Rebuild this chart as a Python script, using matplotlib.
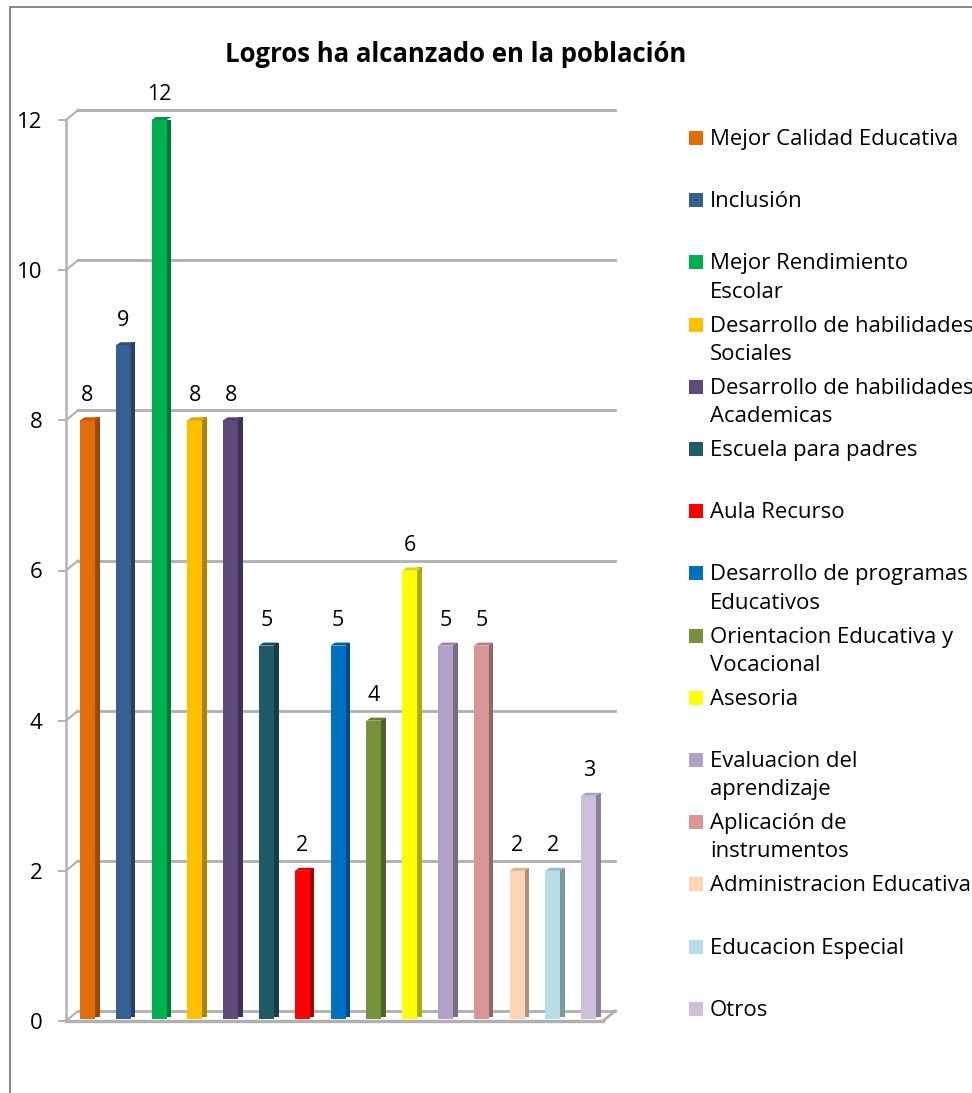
import matplotlib
matplotlib.use("Agg")
import matplotlib.pyplot as plt
from matplotlib.patches import Polygon, Rectangle
from matplotlib.transforms import ScaledTranslation
import matplotlib.colors as mc

plt.rcParams['font.family'] = ['Open Sans', 'DejaVu Sans']

TITLE = "Logros ha alcanzado en la población"
categories = ["Mejor Calidad Educativa", "Inclusión", "Mejor Rendimiento\nEscolar",
              "Desarrollo de habilidades\nSociales", "Desarrollo de habilidades\nAcademicas",
              "Escuela para padres", "Aula Recurso", "Desarrollo de programas\nEducativos",
              "Orientacion Educativa y\nVocacional", "Asesoria", "Evaluacion del\naprendizaje",
              "Aplicación de\ninstrumentos", "Administracion Educativa", "Educacion Especial", "Otros"]
values = [8, 9, 12, 8, 8, 5, 2, 5, 4, 6, 5, 5, 2, 2, 3]
colors = ["#E36C0A", "#366092", "#00B050", "#FFC000", "#604A7B", "#215967", "#FF0000", "#0070C0",
          "#76933C", "#FFFF00", "#B1A0C7", "#DA9694", "#FCD5B4", "#B7DEE8", "#CCC0DA"]
yticks = [0, 2, 4, 6, 8, 10, 12]

W, H = 972, 1093
fig = plt.figure(figsize=(W / 100, H / 100), dpi=100)

# pixel-space overlay for frame and legend
ov = fig.add_axes([0, 0, 1, 1])
ov.set_xlim(0, W); ov.set_ylim(H, 0); ov.axis('off')
ov.plot([10, 10, W], [H, 7, 7], color='#868686', lw=1.4, solid_joinstyle='miter')

L, R, Y0, Y12 = 66, 603, 1021, 120
ax = fig.add_axes([L / W, 1 - Y0 / H, (R - L) / W, (Y0 - Y12) / H])
ax.patch.set_alpha(0)
ax.set_xlim(-0.5, 14.5)
ax.set_ylim(0, 12)
for s in ['top', 'right', 'bottom']:
    ax.spines[s].set_visible(False)
ax.spines['left'].set_color('#B4B4B4'); ax.spines['left'].set_linewidth(1.8)
ax.set_xticks([])
ax.set_yticks(yticks)
ax.tick_params(axis='y', length=6, width=1.2, color='#A6A6A6', pad=11, labelsize=16, labelcolor='black')

DX, DY = 12, 10  # depth in pixels
depth = ax.transData + ScaledTranslation(DX / 100, DY / 100, fig.dpi_scale_trans)
grid_c = '#B0B0B0'
unit_x = 1 / 35.8
unit_y = 1 / 75.08
for t in yticks:
    ax.plot([-0.5, 14.5], [t, t], transform=depth, color=grid_c, lw=2.0, clip_on=False, zorder=1)
    ax.plot([-0.5, -0.5 + DX * unit_x], [t, t + DY * unit_y], color=grid_c, lw=1.5, clip_on=False, zorder=1)
# floor
ax.plot([-0.5, 14.5], [0, 0], color=grid_c, lw=2.4, clip_on=False, zorder=2)
ax.plot([14.5, 14.5 + DX * unit_x], [0, DY * unit_y], color=grid_c, lw=2, clip_on=False, zorder=2)


def shade(c, f=0.68):
    r, g, b = mc.to_rgb(c)
    return (r * f, g * f, b * f)


fw, sw, th = 15 * unit_x, 4.5 * unit_x, 3 * unit_y
base = 2 * unit_y
shift = 3.6 * unit_x
for i, (v, c) in enumerate(zip(values, colors)):
    x0 = i + shift - fw / 2
    ax.bar(i + shift, v - base, width=fw, bottom=base, color=c, zorder=3, linewidth=0)
    ax.bar(x0 + fw + sw / 2, v - base + th * 0.5, width=sw, bottom=base + th * 0.5, color=shade(c), zorder=3, linewidth=0)
    ax.add_patch(Polygon([(x0, v), (x0 + sw, v + th), (x0 + fw + sw, v + th), (x0 + fw, v)],
                         closed=True, facecolor=shade(c, 0.85), edgecolor='none', zorder=4, clip_on=False))
    ax.annotate(str(v), (i + shift, v), xytext=(0, 10.5), textcoords='offset points', ha='center', va='bottom',
                fontsize=15.5, color='black', zorder=5, annotation_clip=False)

fig.text(456 / W, 1 - 54 / H, TITLE, ha='center', va='center', fontsize=18.5, fontweight='bold', color='black')

# legend
LEG_TOP, LEG_STEP = 138, 62.2
for i, (lab, c) in enumerate(zip(categories, colors)):
    y = LEG_TOP + i * LEG_STEP
    ov.add_patch(Rectangle((689, y - 7), 14, 14, facecolor=c, edgecolor='none'))
    ov.text(710, y - 9, lab, ha='left', va='top', fontsize=15.9, color='black', linespacing=1.45, clip_on=False)

fig.savefig("out.png", dpi=100, facecolor='white')
